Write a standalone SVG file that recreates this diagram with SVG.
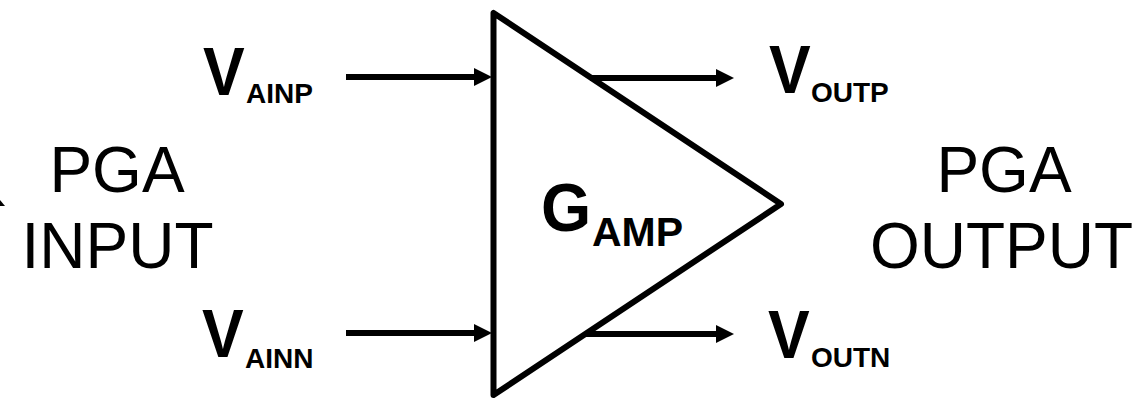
<svg xmlns="http://www.w3.org/2000/svg" width="1132" height="398" viewBox="0 0 1132 398">
<style>
text{font-family:"Liberation Sans",Arial,sans-serif;fill:#000}
.v{font-size:68px;font-weight:700}
.s{font-size:28px;font-weight:700}
.l{font-size:64px;text-anchor:middle}
.c{stroke:#000;stroke-width:6;fill:none}
</style>
<defs><marker id="a" markerUnits="userSpaceOnUse" markerWidth="18" markerHeight="18" refX="10" refY="9" orient="auto"><path d="M0 0L18 9L0 18Z" fill="#000"/></marker></defs>
<rect width="1132" height="398" fill="#fff"/>
<g id="connectors">
<path class="c" d="M346 77H484" marker-end="url(#a)"/>
<path class="c" d="M346 333H484" marker-end="url(#a)"/>
<path class="c" d="M590 78H726" marker-end="url(#a)"/>
<path class="c" d="M586 334H726" marker-end="url(#a)"/>
</g>
<g id="amp"><path d="M493.500 13V395L781 204Z" fill="none" stroke="#000" stroke-width="6" stroke-linejoin="round"/>
<text transform="translate(541 231) scale(.95 1)" class="v">G</text><text x="592" y="246" font-size="41" font-weight="700">AMP</text></g>
<g id="vainp"><text transform="translate(203 95) scale(.92 1)" class="v">V</text><text x="246" y="103" class="s">AINP</text></g>
<g id="vainn"><text transform="translate(202 357) scale(.92 1)" class="v">V</text><text x="245" y="368" class="s">AINN</text></g>
<g id="voutp"><text transform="translate(769 93) scale(.92 1)" class="v">V</text><text x="811" y="102" class="s">OUTP</text></g>
<g id="voutn"><text transform="translate(768 358) scale(.92 1)" class="v">V</text><text x="811" y="367" class="s">OUTN</text></g>
<g id="pga-input"><path d="M0 200L5 206L0 206Z" fill="#000"/><text x="117" y="192" class="l">PGA</text><text x="117.500" y="268" class="l">INPUT</text></g>
<g id="pga-output"><text x="1004" y="192" class="l">PGA</text><text x="1001.500" y="268" class="l">OUTPUT</text></g>
</svg>
